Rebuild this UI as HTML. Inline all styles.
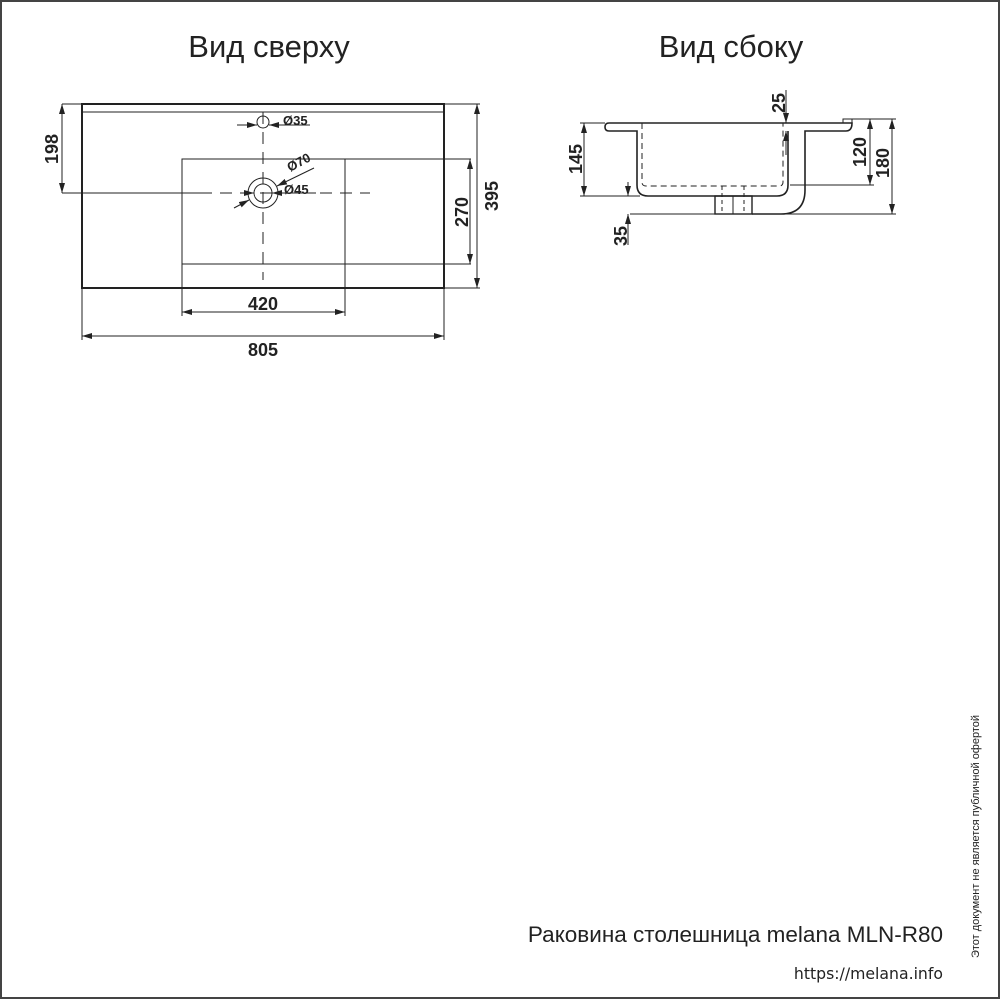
<!DOCTYPE html>
<html><head><meta charset="utf-8"><style>
html,body{margin:0;padding:0;background:#fff}
svg{display:block}
text{font-family:"Liberation Sans",Arial,sans-serif;fill:#222}
</style></head><body>
<svg width="1000" height="1000" viewBox="0 0 1000 1000" xmlns="http://www.w3.org/2000/svg">
<defs>
<marker id="a" viewBox="0 0 10 6" refX="10" refY="3" markerWidth="10" markerHeight="6" orient="auto-start-reverse" markerUnits="userSpaceOnUse"><path d="M0,0 L10,3 L0,6 z" fill="#222"/></marker>
</defs>
<rect x="1" y="1" width="998" height="997" fill="none" stroke="#444" stroke-width="2"/>
<text x="269" y="57" font-size="31" text-anchor="middle">Вид сверху</text>
<text x="731" y="57" font-size="31" text-anchor="middle">Вид сбоку</text>

<g stroke="#222" fill="none" stroke-width="1">
<rect x="82" y="104" width="362" height="184" stroke-width="2"/>
<line x1="82" y1="112" x2="444" y2="112"/>
<polyline points="182,288 182,159 471,159"/>
<polyline points="345,288 345,159"/>
<line x1="182" y1="264" x2="471" y2="264"/>
<line x1="444" y1="104" x2="480" y2="104"/>
<line x1="444" y1="288" x2="480" y2="288"/>
<line x1="470" y1="159" x2="470" y2="264" marker-start="url(#a)" marker-end="url(#a)"/>
<line x1="477" y1="104" x2="477" y2="288" marker-start="url(#a)" marker-end="url(#a)"/>
<line x1="62" y1="104" x2="82" y2="104"/>
<line x1="62" y1="104" x2="62" y2="193" marker-start="url(#a)" marker-end="url(#a)"/>
<line x1="62" y1="193" x2="200" y2="193"/>
<line x1="200" y1="193" x2="370" y2="193" stroke-dasharray="12,8"/>
<line x1="263" y1="112" x2="263" y2="280" stroke-dasharray="12,8"/>
<circle cx="263" cy="122" r="6"/>
<line x1="237" y1="125" x2="257" y2="125" marker-end="url(#a)"/>
<line x1="269" y1="125" x2="310" y2="125" marker-start="url(#a)"/>
<circle cx="263" cy="193" r="15"/>
<circle cx="263" cy="193" r="9"/>
<line x1="242" y1="193" x2="254" y2="193" marker-end="url(#a)"/>
<line x1="272" y1="193" x2="316" y2="193" marker-start="url(#a)"/>
<line x1="234" y1="208" x2="249" y2="200" marker-end="url(#a)"/>
<line x1="277" y1="186" x2="314" y2="168" marker-start="url(#a)"/>
<line x1="182" y1="288" x2="182" y2="316"/>
<line x1="345" y1="288" x2="345" y2="316"/>
<line x1="182" y1="312" x2="345" y2="312" marker-start="url(#a)" marker-end="url(#a)"/>
<line x1="82" y1="288" x2="82" y2="340"/>
<line x1="444" y1="288" x2="444" y2="340"/>
<line x1="82" y1="336" x2="444" y2="336" marker-start="url(#a)" marker-end="url(#a)"/>

<path d="M609,123 L852,123 Q852,131 846,131 L805,131 L805,190 Q805,214 781,214 L752,214 M788,131 L788,185 Q788,196 777,196 L648,196 Q637,196 637,185 L637,131 L609,131 Q605,131 605,127 Q605,123 609,123" stroke-width="1.6"/>
<path d="M843,123 L843,119 L852,119 L852,123"/>
<rect x="715" y="196" width="37" height="18" stroke-width="1.4"/>
<line x1="733" y1="196" x2="733" y2="214"/>
<path d="M642,123 L642,182 Q642,186 646,186 L779,186 Q783,186 783,182 L783,123" stroke-dasharray="6,4"/>
<line x1="722" y1="186" x2="722" y2="214" stroke-dasharray="4,3"/>
<line x1="744" y1="186" x2="744" y2="214" stroke-dasharray="4,3"/>
<line x1="580" y1="123" x2="605" y2="123"/>
<line x1="580" y1="196" x2="640" y2="196"/>
<line x1="584" y1="123" x2="584" y2="196" marker-start="url(#a)" marker-end="url(#a)"/>
<line x1="852" y1="119" x2="896" y2="119"/>
<line x1="790" y1="185" x2="874" y2="185"/>
<line x1="752" y1="214" x2="896" y2="214"/>
<line x1="630" y1="214" x2="715" y2="214"/>
<line x1="870" y1="119" x2="870" y2="185" marker-start="url(#a)" marker-end="url(#a)"/>
<line x1="892" y1="119" x2="892" y2="214" marker-start="url(#a)" marker-end="url(#a)"/>
<line x1="628" y1="182" x2="628" y2="196" marker-end="url(#a)"/>
<line x1="628" y1="214" x2="628" y2="245" marker-start="url(#a)"/>
<line x1="786" y1="90" x2="786" y2="123" marker-end="url(#a)"/>
<line x1="786" y1="131" x2="786" y2="155" marker-start="url(#a)"/>
</g>

<g font-weight="bold">
<text x="283" y="125" font-size="13">Ø35</text>
<text x="290" y="172" font-size="13" transform="rotate(-28 290 172)">Ø70</text>
<text x="284" y="194" font-size="13">Ø45</text>
<text x="263" y="310" font-size="18" text-anchor="middle">420</text>
<text x="263" y="356" font-size="18" text-anchor="middle">805</text>
<text font-size="18" text-anchor="middle" transform="translate(58,149) rotate(-90)">198</text>
<text font-size="18" text-anchor="middle" transform="translate(468,212) rotate(-90)">270</text>
<text font-size="18" text-anchor="middle" transform="translate(498,196) rotate(-90)">395</text>
<text font-size="18" text-anchor="middle" transform="translate(582,159) rotate(-90)">145</text>
<text font-size="18" text-anchor="middle" transform="translate(866,152) rotate(-90)">120</text>
<text font-size="18" text-anchor="middle" transform="translate(889,163) rotate(-90)">180</text>
<text font-size="18" text-anchor="middle" transform="translate(627,236) rotate(-90)">35</text>
<text font-size="18" text-anchor="middle" transform="translate(785,103) rotate(-90)">25</text>
</g>

<text x="943" y="942" font-size="22.5" text-anchor="end">Раковина столешница melana MLN-R80</text>
<text x="943" y="979" font-size="15.7" text-anchor="end" style="font-family:'DejaVu Sans',sans-serif">https://melana.info</text>
<text font-size="11" textLength="243" lengthAdjust="spacingAndGlyphs" transform="translate(979,958) rotate(-90)">Этот документ не является публичной офертой</text>
</svg>
</body></html>
